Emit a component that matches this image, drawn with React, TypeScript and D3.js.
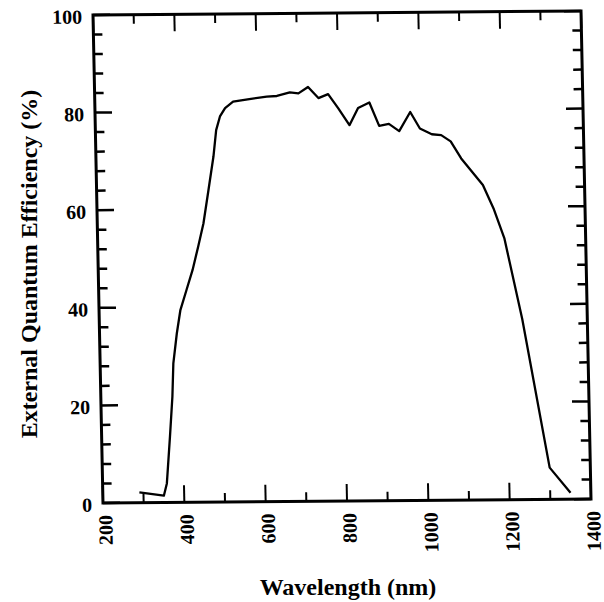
import React from "react";
import * as d3 from "d3";

// ---- data ----
const wavelength = [290, 350, 358, 368, 376, 380, 390, 400, 416, 432, 447, 461, 475, 489, 497, 507, 520, 540, 580, 623, 648, 680, 701, 725, 750, 774, 798, 825, 847, 875, 898, 922, 947, 975, 998, 1027, 1050, 1073, 1098, 1150, 1175, 1200, 1240, 1300, 1350];
const efficiency = [2.1, 1.4, 3.9, 13.5, 21.7, 28.5, 34.6, 39.4, 43.5, 47.6, 52.4, 57.1, 63.9, 70.8, 76.2, 79, 80.7, 82, 82.5, 83, 83.1, 83.8, 83.6, 84.9, 82.6, 83.4, 80.5, 77, 80.5, 81.6, 76.8, 77.2, 75.7, 79.6, 76.2, 75, 74.8, 73.5, 70, 64.5, 59.7, 53.6, 37, 6.5, 1.3];
const xTickLabels = [200, 400, 600, 800, 1000, 1200, 1400];
const xMinorTicks = [300, 500, 700, 900, 1100, 1300];
const yTickLabels = [0, 20, 40, 60, 80, 100];
const yMinorTicks = [4, 8, 12, 16, 24, 28, 32, 36, 44, 48, 52, 56, 64, 68, 72, 76, 84, 88, 92, 96];
const xTitle = "Wavelength (nm)";
const yTitle = "External Quantum Efficiency (%)";

const W = 488;
const H = 488;
const FONT = "'Liberation Serif', 'Times New Roman', serif";

export default function App() {
  const x = d3.scaleLinear().domain([200, 1400]).range([0, W]);
  const y = d3.scaleLinear().domain([0, 100]).range([H, 0]);
  const pts = wavelength.map((w, i) => [w, efficiency[i]] as [number, number]);
  const line = d3
    .line<[number, number]>()
    .x((d) => x(d[0]))
    .y((d) => y(d[1]));

  const majorLen = 17;
  const minorLen = 9;
  const tickW = 2;

  return (
    <svg
      width={604}
      height={602}
      style={{ position: "absolute", left: 0, top: 0, background: "#fff" }}
    >
      <rect x={0} y={0} width={604} height={602} fill="#fff" />
      {/* slightly skewed plot frame, like the scanned original */}
      <g transform={`matrix(1,${-4 / 488},${10 / 488},1,93,15)`}>
        {/* ticks bottom/top */}
        {xTickLabels.map((t) => (
          <g key={"xm" + t}>
            <line x1={x(t)} x2={x(t)} y1={H} y2={H - majorLen} stroke="#000" strokeWidth={tickW} />
            <line x1={x(t)} x2={x(t)} y1={0} y2={majorLen} stroke="#000" strokeWidth={tickW} />
          </g>
        ))}
        {xMinorTicks.map((t) => (
          <g key={"xn" + t}>
            <line x1={x(t)} x2={x(t)} y1={H} y2={H - minorLen} stroke="#000" strokeWidth={tickW} />
            <line x1={x(t)} x2={x(t)} y1={0} y2={minorLen} stroke="#000" strokeWidth={tickW} />
          </g>
        ))}
        {/* ticks left/right */}
        {yTickLabels.map((t) => (
          <g key={"ym" + t}>
            <line x1={0} x2={majorLen} y1={y(t)} y2={y(t)} stroke="#000" strokeWidth={tickW + 0.5} />
            <line x1={W} x2={W - majorLen} y1={y(t)} y2={y(t)} stroke="#000" strokeWidth={tickW + 0.5} />
          </g>
        ))}
        {yMinorTicks.map((t) => (
          <g key={"yn" + t}>
            <line x1={0} x2={minorLen} y1={y(t)} y2={y(t)} stroke="#000" strokeWidth={tickW + 0.5} />
            <line x1={W} x2={W - minorLen} y1={y(t)} y2={y(t)} stroke="#000" strokeWidth={tickW + 0.5} />
          </g>
        ))}
        {/* frame */}
        <rect x={0} y={0} width={W} height={H} fill="none" stroke="#000" strokeWidth={3} />
        {/* data */}
        <path d={line(pts) || ""} fill="none" stroke="#000" strokeWidth={2.3} strokeLinejoin="round" />
        {/* tick labels */}
        {yTickLabels.map((t) => (
          <text
            key={"yl" + t}
            x={-11}
            y={y(t) + 8.5}
            textAnchor="end"
            fontFamily={FONT}
            fontWeight="bold"
            fontSize={20}
            fill="#000"
          >
            {t}
          </text>
        ))}
        {xTickLabels.map((t) => (
          <text
            key={"xl" + t}
            transform={`translate(${x(t) + 9},${H + 12}) rotate(-90)`}
            textAnchor="end"
            fontFamily={FONT}
            fontWeight="bold"
            fontSize={20}
            fill="#000"
          >
            {t}
          </text>
        ))}
      </g>
      {/* axis titles */}
      <text
        x={348}
        y={595}
        textAnchor="middle"
        fontFamily={FONT}
        fontWeight="bold"
        fontSize={24}
        fill="#000"
      >
        {xTitle}
      </text>
      <text
        transform={`translate(37,264) rotate(-90)`}
        textAnchor="middle"
        fontFamily={FONT}
        fontWeight="bold"
        fontSize={24}
        fill="#000"
      >
        {yTitle}
      </text>
    </svg>
  );
}
